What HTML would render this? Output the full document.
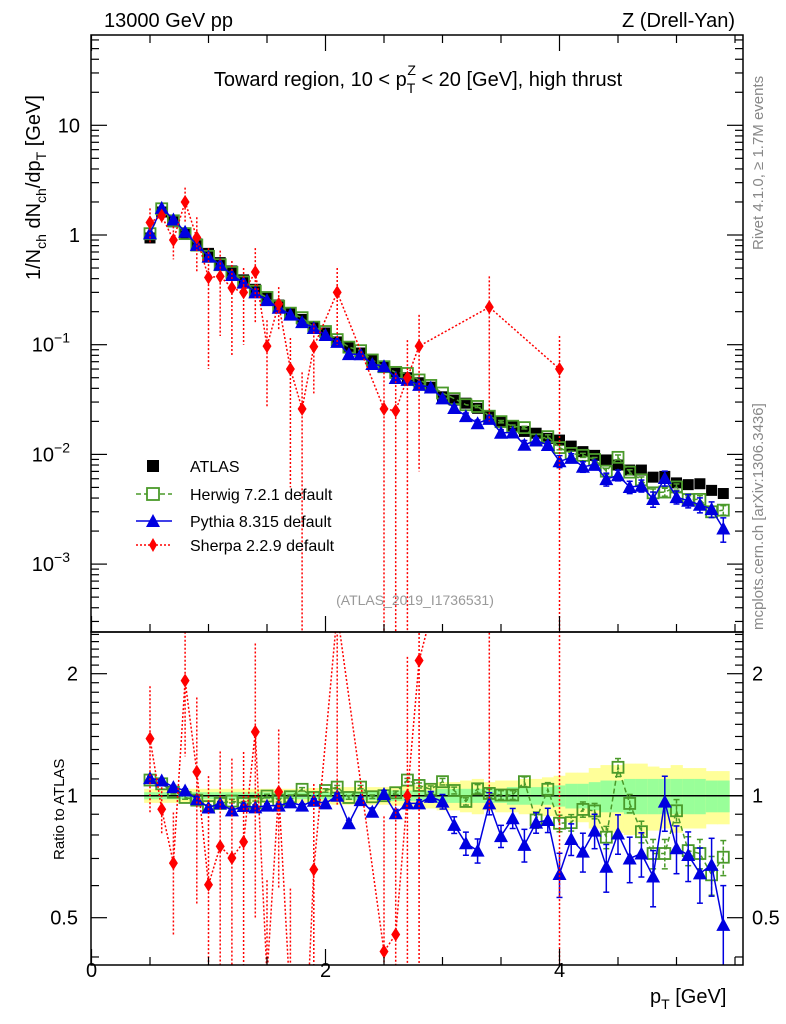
<!DOCTYPE html>
<html><head><meta charset="utf-8"><style>
html,body{margin:0;padding:0;background:#fff;width:786px;height:1024px;overflow:hidden;}
svg{display:block;font-family:"Liberation Sans",Arial,sans-serif;}
</style></head><body>
<svg id="chart" width="786" height="1024" viewBox="0 0 786 1024" xmlns="http://www.w3.org/2000/svg">
<defs>
<clipPath id="clipMain"><rect x="91" y="35" width="652" height="597"/></clipPath>
<clipPath id="clipRatio"><rect x="91" y="632" width="652" height="333"/></clipPath>
</defs>
<g id="bands" clip-path="url(#clipRatio)"></g>
<g id="ratioMarks" clip-path="url(#clipRatio)"></g>
<g id="mainMarks" clip-path="url(#clipMain)"></g>
<g id="axes"></g>
<text x="104" y="27" font-size="20">13000 GeV pp</text>
<text x="735" y="27" font-size="20" text-anchor="end">Z (Drell-Yan)</text>
<text x="418" y="86" font-size="20" text-anchor="middle">Toward region, 10 &lt; p<tspan dy="7" font-size="14">T</tspan><tspan dx="-8" dy="-18" font-size="14">Z</tspan><tspan dy="11"> &lt; 20 [GeV], high thrust</tspan></text>
<text transform="translate(40,280) rotate(-90)" font-size="20">1/N<tspan dy="6" font-size="14">ch</tspan><tspan dy="-6"> dN</tspan><tspan dy="6" font-size="14">ch</tspan><tspan dy="-6">/dp</tspan><tspan dy="6" font-size="14">T</tspan><tspan dy="-6"> [GeV]</tspan></text>
<text transform="translate(763,250) rotate(-90)" font-size="15" fill="#888">Rivet 4.1.0, ≥ 1.7M events</text>
<text transform="translate(763,630) rotate(-90)" font-size="15" fill="#888">mcplots.cern.ch [arXiv:1306.3436]</text>
<text x="415" y="605" font-size="14" fill="#999" text-anchor="middle">(ATLAS_2019_I1736531)</text>
<text transform="translate(64,860) rotate(-90)" font-size="15">Ratio to ATLAS</text>
<text x="650" y="1003" font-size="20">p<tspan dy="6" font-size="14">T</tspan><tspan dy="-6"> [GeV]</tspan></text>
<g id="legend">
<rect x="147" y="460" width="12" height="12" fill="#000"/>
<text x="190" y="472" font-size="16">ATLAS</text>
<line x1="136" y1="494" x2="172" y2="494" stroke="#4a9a2a" stroke-width="1.5" stroke-dasharray="5,3"/>
<rect x="147" y="488" width="12" height="12" fill="#fff" stroke="#4a9a2a" stroke-width="1.8"/>
<text x="190" y="500" font-size="16">Herwig 7.2.1 default</text>
<line x1="136" y1="521" x2="172" y2="521" stroke="#0000e0" stroke-width="1.5"/>
<polygon points="153,514 160,527 146,527" fill="#0000e0"/>
<text x="190" y="527" font-size="16">Pythia 8.315 default</text>
<line x1="136" y1="545" x2="172" y2="545" stroke="#f00" stroke-width="1.5" stroke-dasharray="2,2"/>
<polygon points="153,538 157,545 153,552 149,545" fill="#f00"/>
<text x="190" y="551" font-size="16">Sherpa 2.2.9 default</text>
</g>
</svg>
<script>
// ---- data ----
const xVals = [0.5,0.6,0.7,0.8,0.9,1.0,1.1,1.2,1.3,1.4,1.5,1.6,1.7,1.8,1.9,2.0,2.1,2.2,2.3,2.4,2.5,2.6,2.7,2.8,2.9,3.0,3.1,3.2,3.3,3.4,3.5,3.6,3.7,3.8,3.9,4.0,4.1,4.2,4.3,4.4,4.5,4.6,4.7,4.8,4.9,5.0,5.1,5.2,5.3,5.4];
const atlas = [0.94,1.62,1.32,1.04,0.83,0.68,0.56,0.47,0.39,0.32,0.27,0.23,0.195,0.17,0.146,0.128,0.106,0.096,0.084,0.073,0.063,0.055,0.05,0.045,0.041,0.0335,0.0313,0.0293,0.0263,0.022,0.0198,0.018,0.0162,0.0156,0.014,0.0135,0.0119,0.0106,0.0098,0.0089,0.008,0.0072,0.0072,0.0062,0.0063,0.0055,0.0053,0.0054,0.0047,0.0044];
const herwigRatio = [1.093,1.07,1.02,0.99,0.975,0.94,0.957,0.97,0.957,0.96,0.998,0.975,0.994,1.037,0.99,1.03,1.05,0.99,1.05,0.994,1.0,1.017,1.093,1.06,1.037,1.083,1.03,0.968,1.04,1.013,1.004,1.004,1.083,0.871,1.037,0.855,0.858,0.925,0.917,0.79,1.175,0.957,0.815,0.72,0.72,0.918,0.732,0.72,0.638,0.705];
const herwigErr = [0.01,0.01,0.01,0.01,0.01,0.01,0.01,0.01,0.01,0.01,0.01,0.01,0.01,0.01,0.01,0.01,0.01,0.01,0.01,0.01,0.01,0.01,0.01,0.015,0.02,0.02,0.02,0.02,0.025,0.025,0.025,0.025,0.03,0.04,0.04,0.04,0.04,0.04,0.04,0.05,0.06,0.05,0.05,0.06,0.06,0.06,0.06,0.06,0.07,0.07];
const pythiaRatio = [1.105,1.09,1.05,1.03,0.98,0.935,0.957,0.92,0.943,0.936,0.945,0.945,0.963,0.945,0.972,0.957,1.0,0.855,0.975,0.913,1.01,0.905,0.957,0.957,0.994,0.967,0.847,0.763,0.732,0.957,0.795,0.88,0.756,0.858,0.871,0.641,0.782,0.728,0.82,0.668,0.807,0.7,0.72,0.632,0.967,0.742,0.714,0.643,0.675,0.48];
const pythiaErr = [0.01,0.01,0.01,0.01,0.01,0.01,0.01,0.01,0.01,0.01,0.01,0.01,0.01,0.01,0.01,0.01,0.015,0.015,0.015,0.02,0.02,0.02,0.02,0.02,0.03,0.04,0.04,0.05,0.05,0.06,0.05,0.05,0.07,0.05,0.06,0.08,0.07,0.08,0.08,0.09,0.09,0.09,0.09,0.1,0.15,0.1,0.1,0.1,0.11,0.12];
const sherpa = [1.3,1.5,0.9,2.0,0.95,0.41,0.42,0.33,0.3,0.46,0.097,0.235,0.06,0.026,0.096,null,0.3,null,null,null,0.026,0.025,0.05,0.097,null,null,null,null,null,0.22,null,null,null,null,null,0.06,null,null,null,null,null,null,null,null,null,null,null,null,null,null];
const sherpaErr = [0.45,0.2,0.3,0.7,0.5,0.35,0.3,0.25,0.2,0.3,0.07,0.1,0.055,0.03,0.06,null,0.2,null,null,null,0.03,0.03,0.06,0.09,null,null,null,null,null,0.2,null,null,null,null,null,0.06,null,null,null,null,null,null,null,null,null,null,null,null,null,null];
const bandTotal = [0.04,0.04,0.04,0.04,0.04,0.04,0.04,0.04,0.04,0.04,0.04,0.04,0.04,0.04,0.045,0.045,0.05,0.05,0.05,0.05,0.05,0.055,0.06,0.06,0.07,0.08,0.08,0.09,0.1,0.08,0.09,0.09,0.1,0.1,0.11,0.12,0.14,0.14,0.17,0.19,0.19,0.2,0.2,0.18,0.17,0.19,0.17,0.17,0.15,0.15];
const bandStat = [0.02,0.02,0.02,0.02,0.02,0.02,0.02,0.02,0.02,0.02,0.02,0.02,0.02,0.02,0.02,0.02,0.025,0.025,0.025,0.025,0.025,0.03,0.03,0.03,0.03,0.04,0.04,0.04,0.04,0.04,0.04,0.05,0.05,0.05,0.05,0.06,0.07,0.07,0.08,0.09,0.09,0.1,0.1,0.1,0.1,0.1,0.1,0.1,0.09,0.09];
const xTicks = [0,2,4];
const yMainTicks = [10,1,0.1,0.01,0.001];
const yMainTickLabels = ["10","1","10^-1","10^-2","10^-3"];
const yRatioTicks = [2,1,0.5];

// ---- axes ----
const NS = "http://www.w3.org/2000/svg";
const L=91,R=743,T=35,MB=632,RB=965;
function X(v){return 91.5+v*117;}
function Y(v){return 235-Math.log10(v)*109.7;}
function RY(r){return 795.7-Math.log2(r)*122;}
function mk(parent,tag,attrs){const e=document.createElementNS(NS,tag);for(const k in attrs)e.setAttribute(k,attrs[k]);parent.appendChild(e);return e;}
const axes=document.getElementById('axes'),mainG=document.getElementById('mainMarks'),ratioG=document.getElementById('ratioMarks'),bandG=document.getElementById('bands');

let f1=mk(axes,'rect',{x:L,y:T,width:R-L,height:MB-T,fill:'none',stroke:'#000','stroke-width':1.5});


let f2=mk(axes,'rect',{x:L,y:MB,width:R-L,height:RB-MB,fill:'none',stroke:'#000','stroke-width':1.5});



for(let v=0;v<=5.5;v+=0.5){
  const big=Math.abs(v-Math.round(v))<1e-6 && Math.round(v)%2===0;
  const len=big?16:8,x=X(v);
  for(const yb of [MB,RB]) mk(axes,'line',{x1:x,y1:yb,x2:x,y2:yb-len,stroke:'#000','stroke-width':1.2});
  mk(axes,'line',{x1:x,y1:T,x2:x,y2:T+len,stroke:'#000','stroke-width':1.2});
}
xTicks.forEach(v=>{const t=mk(axes,'text',{x:X(v),y:977,'font-size':20,'text-anchor':'middle'});t.textContent=v;

});

for(let d=-4;d<=1;d++){for(let m=1;m<=9;m++){const v=m*Math.pow(10,d);const y=Y(v);if(y<T||y>MB)continue;const len=m===1?16:8;
mk(axes,'line',{x1:L,y1:y,x2:L+len,y2:y,stroke:'#000','stroke-width':1.2});
mk(axes,'line',{x1:R,y1:y,x2:R-len,y2:y,stroke:'#000','stroke-width':1.2});}}
yMainTicks.forEach((v,i)=>{const lab=yMainTickLabels[i];const t=mk(axes,'text',{x:80,y:Y(v)+7,'font-size':20,'text-anchor':'end'});


if(lab.includes('^')){const p=lab.split('^');t.setAttribute('x',70);t.textContent=p[0];const s=document.createElementNS(NS,'tspan');s.setAttribute('dy',-9);s.setAttribute('font-size',14);s.textContent=p[1].replace('-','−');t.appendChild(s);}else t.textContent=lab;});

for(let v=0.4;v<=2.51;v+=0.1){const y=RY(v);if(y<MB||y>RB)continue;const maj=yRatioTicks.some(t=>Math.abs(t-v)<1e-6);const len=maj?16:8;
mk(axes,'line',{x1:L,y1:y,x2:L+len,y2:y,stroke:'#000','stroke-width':1.2});
mk(axes,'line',{x1:R,y1:y,x2:R-len,y2:y,stroke:'#000','stroke-width':1.2});}
yRatioTicks.forEach(v=>{for(const [x,a] of [[78,'end'],[752,'start']]){const t=mk(axes,'text',{x:x,y:RY(v)+7,'font-size':20,'text-anchor':a});t.textContent=v;

}});

xVals.forEach((xv,i)=>{const x0=X(xv-0.05),w=X(0.1)-X(0);
const yb=mk(bandG,'rect',{x:x0,y:RY(1+bandTotal[i]),width:w+0.5,height:RY(1-bandTotal[i])-RY(1+bandTotal[i]),fill:'#ffff99'});


const gb=mk(bandG,'rect',{x:x0,y:RY(1+bandStat[i]),width:w+0.5,height:RY(1-bandStat[i])-RY(1+bandStat[i]),fill:'#99ff99'});

});
mk(bandG,'line',{x1:L,y1:RY(1),x2:R,y2:RY(1),stroke:'#000','stroke-width':1.5});

function sq(g,x,y,s,fill,stroke){return mk(g,'rect',{x:x-s/2,y:y-s/2,width:s,height:s,fill:fill,stroke:stroke||'none','stroke-width':1.8});}
function tri(g,x,y,c){return mk(g,'polygon',{points:`${x},${y-7} ${x+7},${y+6} ${x-7},${y+6}`,fill:c});}
function dia(g,x,y){return mk(g,'polygon',{points:`${x},${y-7} ${x+4.5},${y} ${x},${y+7} ${x-4.5},${y}`,fill:'#f00'});}
function err(g,x,y1,y2,c,dash){const a={x1:x,y1:y1,x2:x,y2:y2,stroke:c,'stroke-width':1.5};if(dash)a['stroke-dasharray']=dash;mk(g,'line',a);
mk(g,'line',{x1:x-3,y1:y1,x2:x+3,y2:y1,stroke:c,'stroke-width':1.5});mk(g,'line',{x1:x-3,y1:y2,x2:x+3,y2:y2,stroke:c,'stroke-width':1.5});}
function poly(g,pts,c,dash){const a={points:pts.map(p=>p.join(',')).join(' '),fill:'none',stroke:c,'stroke-width':1.5};if(dash)a['stroke-dasharray']=dash;return mk(g,'polyline',a);}

xVals.forEach((xv,i)=>{const s=sq(mainG,X(xv),Y(atlas[i]),11,'#000');

});
const hw=xVals.map((xv,i)=>[X(xv),Y(atlas[i]*herwigRatio[i])]);
poly(mainG,hw,'#4a9a2a','5,3');
xVals.forEach((xv,i)=>{const v=atlas[i]*herwigRatio[i],e=atlas[i]*herwigErr[i];if(herwigErr[i]>0.02)err(mainG,X(xv),Y(v+e),Y(v-e),'#4a9a2a','4,2');
const s=sq(mainG,X(xv),Y(v),11,'none','#4a9a2a');

});
const py=xVals.map((xv,i)=>[X(xv),Y(atlas[i]*pythiaRatio[i])]);
poly(mainG,py,'#0000e0');
xVals.forEach((xv,i)=>{const v=atlas[i]*pythiaRatio[i],e=atlas[i]*pythiaErr[i];if(pythiaErr[i]>0.02)err(mainG,X(xv),Y(v+e),Y(v-e),'#0000e0');
const t=tri(mainG,X(xv),Y(v),'#0000e0');

});
const shIdx=xVals.map((x,i)=>i).filter(i=>sherpa[i]!==null);
poly(mainG,shIdx.map(i=>[X(xVals[i]),Y(sherpa[i])]),'#f00','2,2');
shIdx.forEach(i=>{const v=sherpa[i],e=sherpaErr[i];const lo=v-e>0?Y(v-e):MB+10;
mk(mainG,'line',{x1:X(xVals[i]),y1:Y(v+e),x2:X(xVals[i]),y2:lo,stroke:'#f00','stroke-width':1.5,'stroke-dasharray':'2,2'});
const d=dia(mainG,X(xVals[i]),Y(v));

});

poly(ratioG,xVals.map((xv,i)=>[X(xv),RY(herwigRatio[i])]),'#4a9a2a','5,3');
xVals.forEach((xv,i)=>{const r=herwigRatio[i],e=herwigErr[i];err(ratioG,X(xv),RY(r+e),RY(r-e),'#4a9a2a','4,2');
const s=sq(ratioG,X(xv),RY(r),11,'none','#4a9a2a');

});
poly(ratioG,xVals.map((xv,i)=>[X(xv),RY(pythiaRatio[i])]),'#0000e0');
xVals.forEach((xv,i)=>{const r=pythiaRatio[i],e=pythiaErr[i];err(ratioG,X(xv),RY(r+e),RY(r-e),'#0000e0');
const t=tri(ratioG,X(xv),RY(r),'#0000e0');

});
poly(ratioG,shIdx.map(i=>[X(xVals[i]),RY(sherpa[i]/atlas[i])]),'#f00','2,2');
shIdx.forEach(i=>{const r=sherpa[i]/atlas[i],e=sherpaErr[i]/atlas[i];const lo=r-e>0.3?RY(r-e):RB+10;
mk(ratioG,'line',{x1:X(xVals[i]),y1:RY(r+e),x2:X(xVals[i]),y2:lo,stroke:'#f00','stroke-width':1.5,'stroke-dasharray':'2,2'});
const d=dia(ratioG,X(xVals[i]),RY(r));

});
</script>
</body></html>
